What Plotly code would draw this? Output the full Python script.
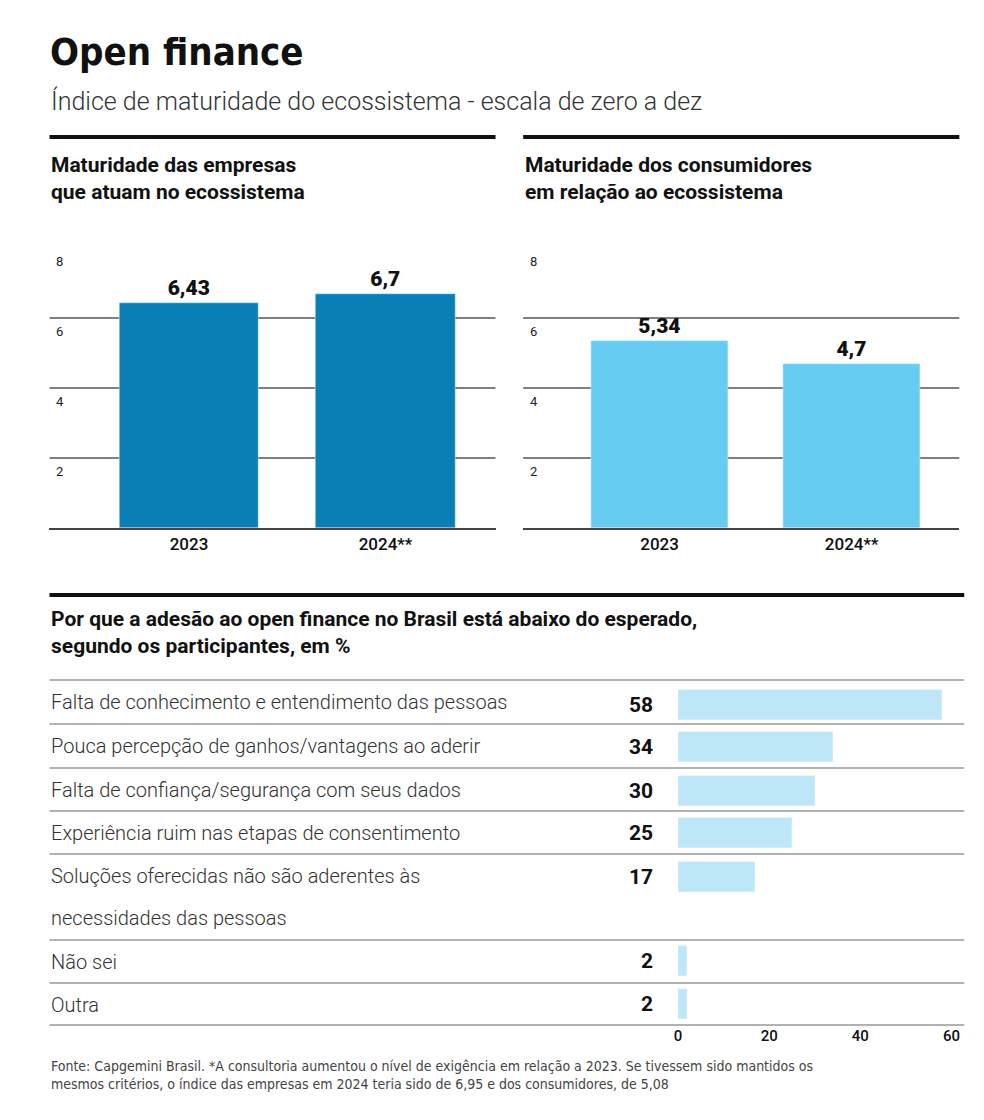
import plotly.graph_objects as go

W, H = 984, 1120

years = ["2023", "2024**"]
empresas = [6.43, 6.7]
consumidores = [5.34, 4.7]
empresas_txt = ["6,43", "6,7"]
consumidores_txt = ["5,34", "4,7"]

motivos = [
    "Falta de conhecimento e entendimento das pessoas",
    "Pouca percepção de ganhos/vantagens ao aderir",
    "Falta de confiança/segurança com seus dados",
    "Experiência ruim nas etapas de consentimento",
    "Soluções oferecidas não são aderentes às<br>necessidades das pessoas",
    "Não sei",
    "Outra",
]
pct = [58, 34, 30, 25, 17, 2, 2]

# row layout of the lower table, in pixels
row_tops = [672, 716, 760, 803, 846, 932, 975]
row_bottom = 1017
bar_centers = [697, 739, 783, 825, 869, 953, 996]

DARK = "#0a7fb5"
LIGHT = "#66ccf2"
FONT = "Roboto"
COND = "DejaVu Sans Condensed"


def px(x):
    return x / W


def py(y):
    return 1 - y / H


fig = go.Figure()
fig.add_bar(x=[0, 1], y=empresas, marker_color=DARK, width=0.71, xaxis="x", yaxis="y",
            text=empresas_txt, textposition="outside", cliponaxis=False,
            textfont=dict(size=21, color="#111", family=FONT + " Black"))
fig.add_bar(x=[0, 1], y=consumidores, marker_color=LIGHT, width=0.71, xaxis="x2", yaxis="y2",
            text=consumidores_txt, textposition="outside", cliponaxis=False,
            textfont=dict(size=21, color="#111", family=FONT + " Black"))
fig.add_bar(x=pct, y=bar_centers, orientation="h", marker_color="#bde6f7", width=30,
            xaxis="x3", yaxis="y3")

shapes, ann = [], []
top_axis = dict(range=[-0.71, 1.56], showgrid=False, zeroline=False, showline=True,
                linecolor="#444", linewidth=1.5, tickvals=[0, 1], ticktext=years,
                tickfont=dict(size=17, color="#111", family=FONT + " Medium"), ticks="")
y_axis = dict(range=[0, 8.2], showgrid=False, zeroline=False, showticklabels=False)
for i, (x0, x1, title) in enumerate([(38, 490, "Maturidade das empresas<br>que atuam no ecossistema"),
                                     (518, 960, "Maturidade dos consumidores<br>em relação ao ecossistema")]):
    sfx = "" if i == 0 else "2"
    fig.layout["xaxis" + sfx] = dict(top_axis, domain=[px(x0), px(x1)], anchor="y" + sfx)
    fig.layout["yaxis" + sfx] = dict(y_axis, domain=[py(520), py(239 - 6)], anchor="x" + sfx)
    shapes.append(dict(type="line", xref="paper", yref="paper", x0=px(x0), x1=px(x1),
                       y0=py(129), y1=py(129), line=dict(color="#111", width=4)))
    ann.append(dict(text="<b>" + title + "</b>", xref="paper", yref="paper", x=px(x0), y=py(143),
                    xanchor="left", yanchor="top", showarrow=False, align="left",
                    font=dict(size=21, color="#111", family=FONT)))
    for v in [2, 4, 6, 8]:
        if v < 8:
            shapes.append(dict(type="line", xref="x%s domain" % sfx, yref="y" + sfx, x0=0, x1=1,
                               y0=v, y1=v, line=dict(color="#555", width=1.5), layer="below"))
        ann.append(dict(text=str(v), xref="x%s domain" % sfx, yref="y" + sfx, x=0.01, y=v,
                        xanchor="left", yanchor="top", yshift=-4, showarrow=False,
                        font=dict(size=13, color="#222", family=FONT)))

fig.layout.xaxis3 = dict(domain=[px(675), px(952)], range=[0, 60], anchor="y3",
                         showgrid=False, zeroline=False, tickvals=[0, 20, 40, 60],
                         tickfont=dict(size=15, color="#111", family=FONT + " Medium"))
fig.layout.yaxis3 = dict(domain=[py(row_bottom), py(row_tops[0])], range=[row_bottom, row_tops[0]],
                         visible=False, anchor="x3")

shapes.append(dict(type="line", xref="paper", yref="paper", x0=px(38), x1=px(965),
                   y0=py(587), y1=py(587), line=dict(color="#111", width=4)))
for y in row_tops + [row_bottom]:
    shapes.append(dict(type="line", xref="paper", yref="paper", x0=px(38), x1=px(965),
                       y0=py(y), y1=py(y), line=dict(color="#666", width=1.2)))
for lab, v, top, c in zip(motivos, pct, row_tops, bar_centers):
    for k, part in enumerate(lab.split("<br>")):
        ann.append(dict(text=part, xref="paper", yref="paper", x=px(38), y=py(top + 8 + 42 * k),
                        xanchor="left", yanchor="top", showarrow=False, align="left",
                        font=dict(size=20, color="#333", family=FONT + " Light")))
    ann.append(dict(text="<b>%d</b>" % v, xref="paper", yref="y3", x=px(652), y=c,
                    xanchor="right", yanchor="middle", showarrow=False,
                    font=dict(size=21, color="#111", family=FONT)))

ann += [
    dict(text="<b>Open finance</b>", x=px(36), y=py(20), font=dict(size=38, color="#111", family=COND)),
    dict(text="Índice de maturidade do ecossistema - escala de zero a dez", x=px(38), y=py(76),
         font=dict(size=25, color="#333", family=FONT + " Light")),
    dict(text="<b>Por que a adesão ao open finance no Brasil está abaixo do esperado,<br>segundo os participantes, em %</b>",
         x=px(38), y=py(597), align="left", font=dict(size=21, color="#111", family=FONT)),
    dict(text="Fonte: Capgemini Brasil. *A consultoria aumentou o nível de exigência em relação a 2023. Se tivessem sido mantidos os<br>"
              "mesmos critérios, o índice das empresas em 2024 teria sido de 6,95 e dos consumidores, de 5,08",
         x=px(38), y=py(1048), align="left", font=dict(size=14, color="#444", family=COND)),
]
for a in ann[-4:]:
    a.update(xref="paper", yref="paper", xanchor="left", yanchor="top", showarrow=False)

fig.update_layout(width=W, height=H, margin=dict(l=0, r=0, t=0, b=0),
                  plot_bgcolor="white", paper_bgcolor="white", showlegend=False,
                  shapes=shapes, annotations=ann, bargap=0)
fig.write_html("out.html")
